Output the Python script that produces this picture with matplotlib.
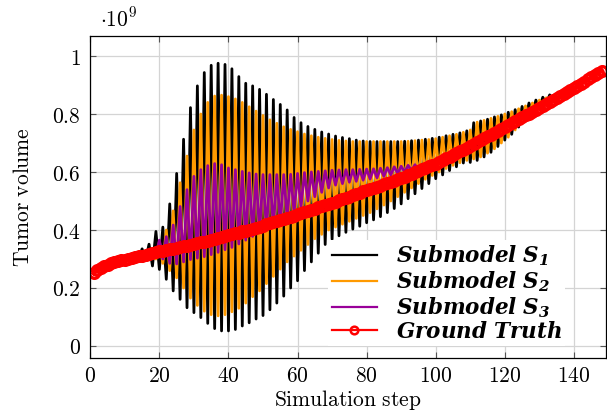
import matplotlib
matplotlib.use("Agg")
import matplotlib.pyplot as plt
import numpy as np
from matplotlib.ticker import FixedLocator, FuncFormatter

plt.rcParams["mathtext.fontset"] = "cm"
plt.rcParams["font.family"] = ["DejaVu Serif"]

# tumor volume in units of 1e9, one value per simulation step (1..148)
steps = np.arange(1, 149)

ground_truth = [
    .250, .262, .270, .276, .281, .285, .289, .292, .295, .298,
    .301, .304, .306, .309, .312, .315, .318, .321, .324, .327,
    .329, .331, .334, .336, .339, .341, .344, .346, .349, .352,
    .355, .357, .360, .363, .366, .369, .372, .375, .378, .382,
    .385, .388, .391, .395, .398, .401, .405, .408, .412, .415,
    .419, .423, .426, .430, .434, .438, .442, .446, .450, .455,
    .459, .463, .467, .470, .474, .478, .482, .486, .490, .494,
    .498, .502, .507, .511, .515, .519, .524, .528, .533, .537,
    .541, .545, .549, .553, .557, .561, .566, .570, .575, .579,
    .584, .589, .594, .599, .604, .609, .614, .619, .624, .629,
    .635, .641, .647, .653, .659, .665, .671, .677, .683, .690,
    .697, .703, .710, .716, .723, .729, .736, .742, .749, .756,
    .762, .769, .775, .782, .788, .795, .801, .808, .815, .821,
    .828, .835, .841, .848, .855, .861, .868, .875, .882, .889,
    .896, .904, .911, .919, .926, .934, .942, .950,
]

# oscillating part of submodel S1, steps 13..134
s1_osc = [
    .318, .300, .335, .295, .351, .276, .395, .264, .410, .230,
    .490, .190, .595, .161, .713, .132, .822, .115, .897, .098,
    .943, .078, .968, .060, .975, .052, .971, .052, .956, .057,
    .929, .069, .906, .080, .897, .093, .885, .105, .868, .125,
    .850, .148, .833, .172, .814, .200, .788, .225, .770, .260,
    .757, .290, .747, .320, .738, .350, .731, .368, .724, .380,
    .719, .392, .715, .403, .710, .413, .707, .425, .705, .435,
    .705, .446, .705, .460, .705, .474, .705, .490, .706, .508,
    .708, .525, .710, .543, .713, .560, .716, .577, .720, .590,
    .725, .605, .730, .618, .735, .631, .742, .633, .770, .640,
    .776, .652, .782, .668, .790, .688, .797, .710, .806, .730,
    .815, .755, .826, .778, .838, .800, .848, .818, .858, .836,
    .866, .848,
]

# oscillating part of submodel S2, steps 15..134
s2_osc = [
    .310, .325, .310, .335, .300, .360, .285, .400, .260, .466,
    .235, .563, .200, .655, .165, .745, .140, .800, .120, .840,
    .108, .862, .104, .865, .108, .860, .118, .852, .130, .840,
    .148, .825, .170, .810, .190, .795, .215, .780, .240, .768,
    .265, .756, .290, .747, .310, .739, .330, .731, .350, .725,
    .370, .720, .385, .716, .400, .712, .410, .709, .420, .707,
    .430, .705, .440, .705, .450, .705, .460, .705, .473, .705,
    .486, .705, .500, .705, .515, .705, .530, .706, .545, .708,
    .560, .710, .575, .712, .588, .715, .600, .720, .612, .725,
    .623, .730, .632, .737, .640, .745, .645, .772, .652, .778,
    .665, .785, .680, .792, .700, .800, .720, .808, .745, .818,
    .770, .828, .790, .838, .810, .848, .825, .856, .838, .858,
]

# oscillating part of submodel S3, steps 17..95
s3_osc = [
    .318, .330, .310, .365, .300, .377, .285, .417, .283, .481,
    .290, .539, .298, .585, .303, .608, .308, .622, .315, .629,
    .323, .625, .332, .614, .340, .608, .352, .602, .365, .597,
    .378, .593, .390, .591, .400, .591, .410, .591, .420, .591,
    .440, .592, .460, .595, .480, .598, .500, .600, .515, .602,
    .530, .604, .545, .606, .555, .607, .560, .608, .565, .608,
    .568, .609, .572, .610, .576, .611, .580, .613, .585, .615,
    .590, .618, .595, .620, .600, .623, .605, .625, .608,
]

# submodels follow the ground truth before and after they oscillate
s1 = ground_truth[:12] + s1_osc + ground_truth[134:]
s2 = ground_truth[:14] + s2_osc + ground_truth[134:]
s3 = ground_truth[:16] + s3_osc + ground_truth[95:]

labels = [
    r"$\mathbfit{Submodel\ S_1}$",
    r"$\mathbfit{Submodel\ S_2}$",
    r"$\mathbfit{Submodel\ S_3}$",
    r"$\mathbfit{Ground\ Truth}$",
]
x_ticks = [0, 20, 40, 60, 80, 100, 120, 140]
y_ticks = [0, 0.2, 0.4, 0.6, 0.8, 1.0]

fig = plt.figure(figsize=(6.07, 4.11), dpi=100)
ax = fig.add_axes([90.3 / 607, 53 / 411, 515.7 / 607, 322 / 411])

lw = 2.0
ax.plot(steps, s1, color="black", lw=lw, label=labels[0])
ax.plot(steps, s2, color="#ff9a00", lw=lw, label=labels[1])
ax.plot(steps, s3, color="#990099", lw=lw, label=labels[2])
ax.plot(steps, ground_truth, color="red", lw=3.0, marker="o", ms=7,
        mfc="none", mew=2.4, label=labels[3])

ax.set_xlim(0, 149.3)
ax.set_ylim(-0.0414, 1.069)
ax.xaxis.set_major_locator(FixedLocator(x_ticks))
ax.yaxis.set_major_locator(FixedLocator(y_ticks))
fmt = FuncFormatter(lambda v, p: f"${round(v, 2):g}$")
ax.xaxis.set_major_formatter(fmt)
ax.yaxis.set_major_formatter(fmt)

ax.grid(True, color="#d4d4d4", lw=0.9)
ax.set_axisbelow(True)
ax.tick_params(direction="in", length=4.5, width=0.8, color="#555555",
               top=True, right=True, labelsize=15.5)
ax.tick_params(axis="x", pad=5)
ax.tick_params(axis="y", pad=7)
for sp in ax.spines.values():
    sp.set_linewidth(0.9)

ax.set_xlabel(r"$\mathrm{Simulation\ step}$", fontsize=15.5)
ax.set_ylabel(r"$\mathrm{Tumor\ volume}$", fontsize=15.5)
ax.xaxis.set_label_coords(0.5, -0.093)
ax.yaxis.set_label_coords(-0.109, 0.5)

ax.text(0.019, 1.031, r"$\cdot 10^{9}$", transform=ax.transAxes,
        fontsize=15.5, ha="left", va="baseline")

leg = ax.legend(loc="lower right", bbox_to_anchor=(0.942, 0.004),
                frameon=True, fancybox=False, framealpha=1,
                edgecolor="none", fontsize=15.5, handlelength=2.1,
                handletextpad=0.9, labelspacing=0.05, borderpad=0.15)
for t in leg.get_texts():
    t.set_math_fontfamily("dejavuserif")
for h in leg.get_lines():
    h.set_linewidth(1.6)
    h.set_markersize(5.5)
    h.set_markeredgewidth(1.8)

fig.savefig("out.png", dpi=100)
